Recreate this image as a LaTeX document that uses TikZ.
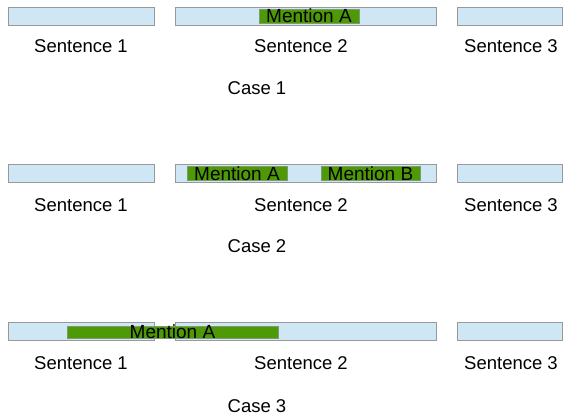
\documentclass[tikz,border=0pt]{standalone}
\usepackage{fontspec}
\setmainfont{Liberation Sans}
\definecolor{barblue}{HTML}{CFE7F5}
\definecolor{bargray}{HTML}{999999}
\definecolor{mgreen}{HTML}{4E9A06}
\begin{document}
\begin{tikzpicture}[x=1pt,y=-1pt,
  sbar/.style={draw=bargray,line width=0.9pt,fill=barblue,minimum height=18pt,inner sep=0pt,outer sep=0pt},
  ment/.style={draw=bargray!70!mgreen,line width=0.6pt,fill=mgreen,minimum height=12pt,inner sep=0pt,outer sep=0pt,font=\fontsize{19}{19}\selectfont},
  mtext/.style={font=\fontsize{19}{19}\selectfont,inner sep=0pt},
  lbl/.style={font=\fontsize{18.5}{20}\selectfont,inner sep=0pt}]
\useasboundingbox (0,0) rectangle (565,418);
% Case 1
\node[sbar,minimum width=146pt] (a1) at (81,16) {};
\node[sbar,minimum width=261pt] (a2) at (305.5,16) {};
\node[sbar,minimum width=105pt] (a3) at (509.5,16) {};
\node[ment,minimum width=100pt] (am) at (309,16) {Mention A};
\node[lbl] (at1) at (81,46) {Sentence 1};
\node[lbl] (at2) at (301,46) {Sentence 2};
\node[lbl] (at3) at (511,46) {Sentence 3};
\node[lbl] (ac) at (257,88) {Case 1};
% Case 2
\node[sbar,minimum width=146pt] (b1) at (81,173.5) {};
\node[sbar,minimum width=261pt] (b2) at (305.5,173.5) {};
\node[sbar,minimum width=105pt] (b3) at (509.5,173.5) {};
\node[ment,minimum width=100pt] (bmA) at (237,173.5) {Mention A};
\node[ment,minimum width=99pt] (bmB) at (370.5,173.5) {Mention B};
\node[lbl] (bt1) at (81,205) {Sentence 1};
\node[lbl] (bt2) at (301,205) {Sentence 2};
\node[lbl] (bt3) at (511,205) {Sentence 3};
\node[lbl] (bc) at (257,246) {Case 2};
% Case 3
\node[sbar,minimum width=146pt] (c1) at (81,331) {};
\node[sbar,minimum width=261pt] (c2) at (305.5,331) {};
\node[sbar,minimum width=105pt] (c3) at (509.5,331) {};
\node[ment,minimum width=211pt] (cm) at (172.5,332) {};
\node[mtext] (cmt) at (172.5,332) {Mention A};
\node[lbl] (ct1) at (81,363) {Sentence 1};
\node[lbl] (ct2) at (301,363) {Sentence 2};
\node[lbl] (ct3) at (511,363) {Sentence 3};
\node[lbl] (cc) at (257,406) {Case 3};
\end{tikzpicture}
\end{document}
